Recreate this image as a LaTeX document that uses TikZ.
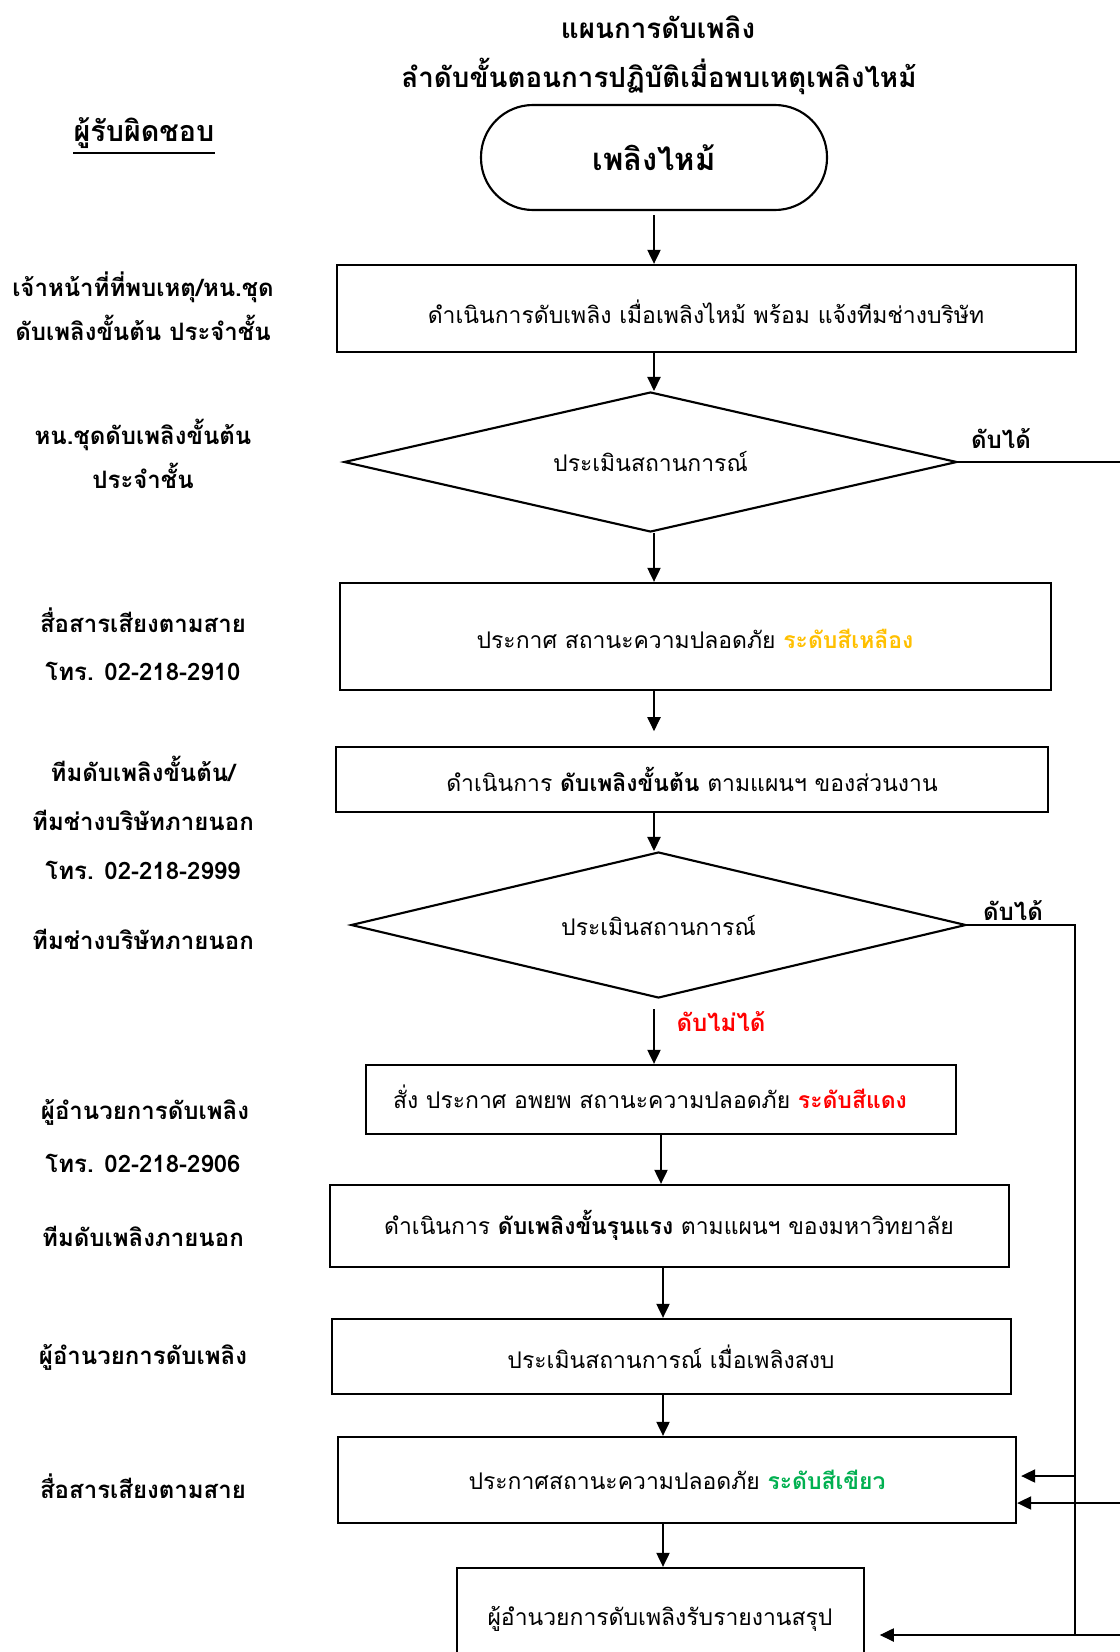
\documentclass[tikz,border=0pt]{standalone}
\usepackage{fontspec}
\setmainfont[Script=Thai]{Loma}
\usetikzlibrary{shapes.geometric,arrows.meta}
\definecolor{ylw}{HTML}{FFC000}
\definecolor{rd}{HTML}{FF0000}
\definecolor{grn}{HTML}{00B050}
\newcommand{\fbody}{\fontsize{17.2}{20}\selectfont}
\newcommand{\flab}{\fontsize{18}{21}\selectfont\bfseries}
\newcommand{\fresp}{\fontsize{21.5}{25}\selectfont\bfseries}
\newcommand{\ftitle}{\fontsize{20.8}{24}\selectfont\bfseries}
\newcommand{\fstart}{\fontsize{23.2}{27}\selectfont\bfseries}
\begin{document}
\begin{tikzpicture}[x=0.75pt,y=-0.75pt,
  box/.style={draw=black, line width=1.8pt, rectangle, inner sep=0pt, font=\fbody},
  dia/.style={draw=black, line width=1.6pt, diamond, aspect=4.4, inner sep=0pt, font=\fbody},
  term/.style={draw=black, line width=1.6pt, rectangle, rounded corners=39pt, inner sep=0pt, font=\fstart},
  lbl/.style={font=\flab, align=center, inner sep=0pt},
  txt/.style={font=\fbody, inner sep=0pt},
  arr/.style={line width=0.8pt, -{Triangle[length=10.5pt,width=10pt]}},
  ln/.style={line width=0.8pt}]
\path[clip] (0,0) rectangle (1120,1652);
\fill[white] (0,0) rectangle (1120,1652);

% title
\node[font=\ftitle, inner sep=0pt] (t1) at (658,27) {แผนการดับเพลิง};
\node[font=\ftitle, inner sep=0pt] (t2) at (659,76) {ลำดับขั้นตอนการปฏิบัติเมื่อพบเหตุเพลิงไหม้};
\node[font=\fresp, inner sep=0pt] (resp) at (144,133) {ผู้รับผิดชอบ};
\draw[line width=1.2pt] ([yshift=-3pt]resp.south west) -- ([yshift=-3pt]resp.south east);

% main nodes
\node[term, minimum width=259.5pt, minimum height=78.75pt] (start) at (654,157.5) {เพลิงไหม้};
\node[box, minimum width=554.25pt, minimum height=65.25pt] (b1) at (706.5,308.5) {};
\node[txt] (b1t) at (706,312) {ดำเนินการดับเพลิง เมื่อเพลิงไหม้ พร้อม แจ้งทีมช่างบริษัท};
\node[dia, minimum width=459.75pt, minimum height=105pt] (d1) at (650.5,462) {ประเมินสถานการณ์};
\node[box, minimum width=533.25pt, minimum height=80.25pt] (b2) at (695.5,636.5) {};
\node[txt] (b2t) at (695,639) {ประกาศ สถานะความปลอดภัย \textcolor{ylw}{\bfseries ระดับสีเหลือง}};
\node[box, minimum width=534pt, minimum height=48.75pt] (b3) at (692,779.5) {};
\node[txt] (b3t) at (692,779) {ดำเนินการ \textbf{ดับเพลิงขั้นต้น} ตามแผนฯ ของส่วนงาน};
\node[dia, minimum width=461.25pt, minimum height=109.5pt] (d2) at (658.5,925) {ประเมินสถานการณ์};
\node[box, minimum width=442.5pt, minimum height=51.75pt] (b4) at (661,1099.5) {};
\node[txt] (b4t) at (650,1097) {สั่ง ประกาศ อพยพ สถานะความปลอดภัย \textcolor{rd}{\bfseries ระดับสีแดง}};
\node[box, minimum width=509.25pt, minimum height=61.5pt] (b5) at (669.5,1226) {};
\node[txt] (b5t) at (669,1225) {ดำเนินการ \textbf{ดับเพลิงขั้นรุนแรง} ตามแผนฯ ของมหาวิทยาลัย};
\node[box, minimum width=509.25pt, minimum height=56.25pt] (b6) at (671.5,1356.5) {};
\node[txt] (b6t) at (671,1357) {ประเมินสถานการณ์ เมื่อเพลิงสงบ};
\node[box, minimum width=508.5pt, minimum height=64.5pt] (b7) at (677,1480) {};
\node[txt] (b7t) at (677,1480) {ประกาศสถานะความปลอดภัย \textcolor{grn}{\bfseries ระดับสีเขียว}};
\node[box, minimum width=305.25pt, minimum height=80.25pt] (b8) at (660.5,1621.5) {};
\node[txt] (b8t) at (660,1619) {ผู้อำนวยการดับเพลิงรับรายงานสรุป};

% left labels
\node[lbl] (l1a) at (143,287) {เจ้าหน้าที่ที่พบเหตุ/หน.ชุด};
\node[lbl] (l1b) at (143,328) {ดับเพลิงขั้นต้น ประจำชั้น};
\node[lbl] (l2a) at (143,435) {หน.ชุดดับเพลิงขั้นต้น};
\node[lbl] (l2b) at (143,476) {ประจำชั้น};
\node[lbl] (l3a) at (143,620) {สื่อสารเสียงตามสาย};
\node[lbl] (l3b) at (143,671) {โทร. 02-218-2910};
\node[lbl] (l4a) at (143,769) {ทีมดับเพลิงขั้นต้น/};
\node[lbl] (l4b) at (143,820) {ทีมช่างบริษัทภายนอก};
\node[lbl] (l4c) at (143,870) {โทร. 02-218-2999};
\node[lbl] (l5) at (143,939) {ทีมช่างบริษัทภายนอก};
\node[lbl] (l6a) at (145,1112) {ผู้อำนวยการดับเพลิง};
\node[lbl] (l6b) at (143,1163) {โทร. 02-218-2906};
\node[lbl] (l7) at (143,1236) {ทีมดับเพลิงภายนอก};
\node[lbl] (l8) at (143,1357) {ผู้อำนวยการดับเพลิง};
\node[lbl] (l9) at (143,1486) {สื่อสารเสียงตามสาย};

% branch labels
\node[lbl] (ok1) at (1001,439) {ดับได้};
\node[lbl] (ok2) at (1013,911) {ดับได้};
\node[lbl, text=rd] (nok) at (721,1022) {ดับไม่ได้};

% helper coordinates
\coordinate (col) at (654,0);
\coordinate (col2) at (663,0);
\coordinate (rail) at (1075,0);
\coordinate (rim) at (1130,0);
\coordinate (y1) at (0,1476);
\coordinate (y2) at (0,1503);
\coordinate (y3) at (0,1635);

% main flow
\draw[arr, shorten <=3pt] (start.south) -- (start.south |- b1.north);
\draw[arr] (col |- b1.south) -- (col |- d1.north);
\draw[arr] (col |- d1.south) -- (col |- b2.north);
\draw[arr, shorten >=11pt] (col |- b2.south) -- (col |- b3.north);
\draw[arr] (col |- b3.south) -- (col |- d2.north);
\draw[arr, shorten <=7.5pt] (col |- d2.south) -- (col |- b4.north);
\draw[arr] (b4.south) -- (b4.south |- b5.north);
\draw[arr] (col2 |- b5.south) -- (col2 |- b6.north);
\draw[arr] (col2 |- b6.south) -- (col2 |- b7.north);
\draw[arr] (col2 |- b7.south) -- (col2 |- b8.north);

% right side
\draw[ln] (d1.east) -- (d1.east -| rim);
\draw[ln] (d2.east) -- (d2.east -| rail) -- (rail |- y3);
\draw[arr] (rail |- y1) -- ([xshift=3pt]b7.east |- y1);
\draw[arr] (rim |- y2) -- (b7.east |- y2);
\draw[arr] (rim |- y3) -- ([xshift=11pt]b8.east |- y3);
\end{tikzpicture}
\end{document}
